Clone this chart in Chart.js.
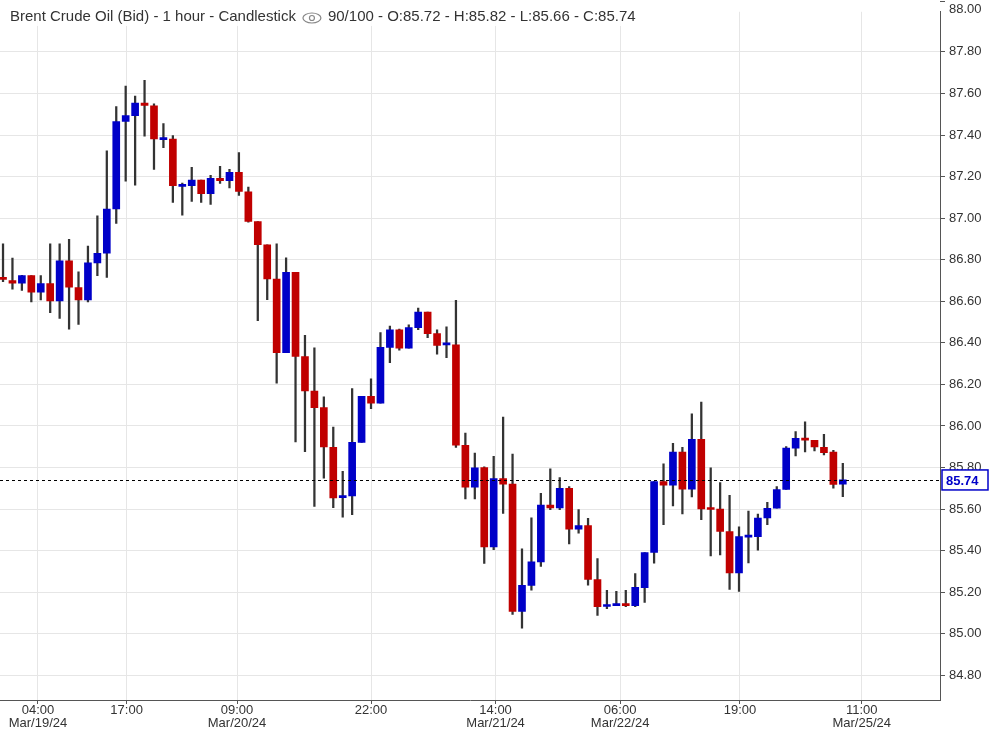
<!DOCTYPE html>
<html>
<head>
<meta charset="UTF-8">
<script src="https://cdn.jsdelivr.net/npm/chart.js@4"></script>
<style>
  body { margin: 0; background: #fff; }
  #wrap { width: 992px; height: 730px; }
</style>
</head>
<body>
<div id="wrap"><canvas id="c"></canvas></div>
<script>
// candle data: open, high, low, close (one per hour)
const opens  = [86.71,86.70,86.687,86.723,86.644,86.685,86.602,86.794,86.666,86.606,86.785,86.831,87.044,87.465,87.493,87.554,87.54,87.378,87.381,87.153,87.156,87.183,87.118,87.192,87.18,87.22,87.126,86.984,86.872,86.707,86.353,86.739,86.334,86.168,86.088,85.897,85.655,85.663,85.921,86.142,86.11,86.378,86.463,86.374,86.473,86.548,86.444,86.39,86.39,85.907,85.705,85.799,85.418,85.747,85.72,85.107,85.233,85.346,85.619,85.605,85.70,85.503,85.52,85.261,85.131,85.135,85.143,85.135,85.221,85.391,85.732,85.715,85.874,85.696,85.935,85.601,85.60,85.492,85.293,85.465,85.467,85.557,85.604,85.694,85.893,85.94,85.931,85.897,85.874,85.72];
const highs  = [86.876,86.808,86.725,86.723,86.723,86.876,86.876,86.898,86.742,86.865,87.011,87.324,87.537,87.636,87.587,87.663,87.55,87.455,87.397,87.169,87.244,87.183,87.206,87.249,87.235,87.315,87.15,86.984,86.872,86.876,86.809,86.739,86.436,86.376,86.14,85.995,85.782,86.18,86.142,86.227,86.449,86.481,86.466,86.487,86.567,86.548,86.463,86.477,86.605,85.966,85.869,85.803,85.854,86.042,85.865,85.409,85.558,85.676,85.794,85.752,85.708,85.597,85.555,85.362,85.209,85.204,85.209,85.289,85.391,85.732,85.817,85.916,85.897,86.058,86.115,85.798,85.727,85.666,85.514,85.59,85.576,85.632,85.708,85.901,85.973,86.02,85.931,85.959,85.883,85.82];
const lows   = [86.694,86.658,86.652,86.597,86.606,86.545,86.517,86.466,86.488,86.597,86.723,86.715,86.975,87.178,87.159,87.395,87.235,87.339,87.076,87.014,87.08,87.076,87.066,87.167,87.146,87.109,86.98,86.507,86.608,86.206,86.353,85.923,85.876,85.613,85.748,85.606,85.561,85.573,85.921,86.083,86.11,86.304,86.364,86.374,86.463,86.425,86.345,86.328,85.897,85.649,85.649,85.338,85.404,85.579,85.093,85.027,85.209,85.324,85.597,85.597,85.432,85.484,85.234,85.088,85.121,85.135,85.13,85.13,85.151,85.339,85.525,85.615,85.577,85.658,85.549,85.374,85.379,85.213,85.204,85.341,85.402,85.525,85.604,85.694,85.856,85.875,85.88,85.861,85.70,85.66];
const closes = [86.705,86.687,86.723,86.644,86.685,86.602,86.794,86.668,86.606,86.785,86.831,87.044,87.465,87.493,87.554,87.542,87.381,87.378,87.156,87.153,87.183,87.118,87.192,87.18,87.22,87.128,86.984,86.872,86.707,86.353,86.739,86.334,86.168,86.088,85.899,85.653,85.657,85.921,86.142,86.11,86.378,86.463,86.374,86.473,86.548,86.444,86.388,86.39,85.907,85.705,85.798,85.418,85.747,85.72,85.107,85.233,85.346,85.619,85.605,85.70,85.503,85.52,85.261,85.13,85.133,85.143,85.135,85.223,85.391,85.732,85.715,85.874,85.696,85.935,85.601,85.598,85.492,85.293,85.467,85.467,85.557,85.604,85.694,85.893,85.94,85.932,85.899,85.871,85.719,85.74];

// time axis labels and where they fall (candle index)
const timeTickPos    = [3.7, 13.1, 24.8, 39.0, 52.2, 65.4, 78.1, 91.0];
const timeTickLabels = [["04:00","Mar/19/24"],["17:00",""],["09:00","Mar/20/24"],["22:00",""],["14:00","Mar/21/24"],["06:00","Mar/22/24"],["19:00",""],["11:00","Mar/25/24"]];
const priceTicks = [84.8,85.0,85.2,85.4,85.6,85.8,86.0,86.2,86.4,86.6,86.8,87.0,87.2,87.4,87.6,87.8];
const topLabel = "88.00";
const lastPrice = 85.74;
const title = "Brent Crude Oil (Bid) - 1 hour - Candlestick";
const ohlcText = "90/100 - O:85.72 - H:85.82 - L:85.66 - C:85.74";

const BLUE = '#0000c8', RED = '#c00000';
const FONT = '"Liberation Sans", Arial, sans-serif';
const bodyCol = closes.map((c, i) => c >= opens[i] ? BLUE : RED);

const extras = {
  id: 'extras',
  afterDatasetsDraw(chart) {
    const { ctx, chartArea: a, scales: { y } } = chart;
    const py = y.getPixelForValue(lastPrice);
    ctx.save();
    ctx.strokeStyle = '#000'; ctx.lineWidth = 1; ctx.setLineDash([3, 3]);
    ctx.beginPath(); ctx.moveTo(a.left, Math.round(py) + 0.5); ctx.lineTo(a.right, Math.round(py) + 0.5); ctx.stroke();
    ctx.setLineDash([]);
    // price tag
    ctx.fillStyle = '#fff'; ctx.fillRect(a.right + 2, py - 10, 46, 20);
    ctx.strokeStyle = BLUE; ctx.lineWidth = 1.5; ctx.strokeRect(a.right + 2, py - 10, 46, 20);
    ctx.fillStyle = BLUE; ctx.font = 'bold 13px ' + FONT;
    ctx.textBaseline = 'middle'; ctx.textAlign = 'left';
    ctx.fillText(lastPrice.toFixed(2), a.right + 6, py + 1);
    // top price label (clamped at edge)
    ctx.fillStyle = '#333'; ctx.font = '13px ' + FONT;
    ctx.fillText(topLabel, a.right + 9, 9);
    ctx.strokeStyle = '#555'; ctx.lineWidth = 1;
    ctx.beginPath(); ctx.moveTo(a.right, 1.5); ctx.lineTo(a.right + 5, 1.5); ctx.stroke();
    // title
    ctx.fillStyle = 'rgba(255,255,255,0.85)'; ctx.fillRect(2, 6, 640, 20);
    ctx.fillStyle = '#333'; ctx.font = '15px ' + FONT;
    ctx.fillText(title, 10, 17);
    const tw = ctx.measureText(title).width;
    const ex = 10 + tw + 16, ey = 18;
    ctx.strokeStyle = '#888'; ctx.lineWidth = 1.2;
    ctx.beginPath(); ctx.ellipse(ex, ey, 9, 5, 0, 0, Math.PI * 2); ctx.stroke();
    ctx.beginPath(); ctx.arc(ex, ey, 2.5, 0, Math.PI * 2); ctx.stroke();
    ctx.fillText(ohlcText, ex + 16, 17);
    ctx.restore();
  }
};

new Chart(document.getElementById('c'), {
  type: 'bar',
  data: {
    datasets: [
      { label: 'wick', data: opens.map((o, i) => ({ x: i, y: [lows[i], highs[i]] })),
        backgroundColor: '#333', barThickness: 1.6, grouped: false, order: 2 },
      { label: 'body', data: opens.map((o, i) => ({ x: i, y: [o, closes[i]] })),
        backgroundColor: bodyCol, barThickness: 7, minBarLength: 2, grouped: false, order: 1 }
    ]
  },
  options: {
    responsive: true, maintainAspectRatio: false, animation: false,
    layout: { padding: 0 },
    plugins: { legend: { display: false }, tooltip: { enabled: false } },
    scales: {
      x: {
        type: 'linear', min: -0.32, max: 99.3, offset: false,
        afterBuildTicks: s => { s.ticks = timeTickPos.map(v => ({ value: v })); },
        afterFit: s => { s.height = 30; },
        ticks: { autoSkip: false, maxRotation: 0, color: '#333', font: { size: 13, family: FONT, lineHeight: 1.0 }, padding: 0,
          callback: (v, i) => timeTickLabels[i] },
        grid: { offset: false, color: '#e6e6e6', tickLength: 4, tickColor: '#555' },
        border: { color: '#555' }
      },
      y: {
        position: 'right', min: 84.681, max: 87.993,
        afterBuildTicks: s => { s.ticks = priceTicks.map(v => ({ value: v })); },
        afterFit: s => { s.width = 52; },
        ticks: { color: '#333', font: { size: 13, family: FONT }, padding: 4,
          callback: v => v.toFixed(2) },
        grid: { offset: false, color: '#e6e6e6', tickLength: 5, tickColor: '#555' },
        border: { color: '#555' }
      }
    }
  },
  plugins: [extras]
});
</script>
</body>
</html>
